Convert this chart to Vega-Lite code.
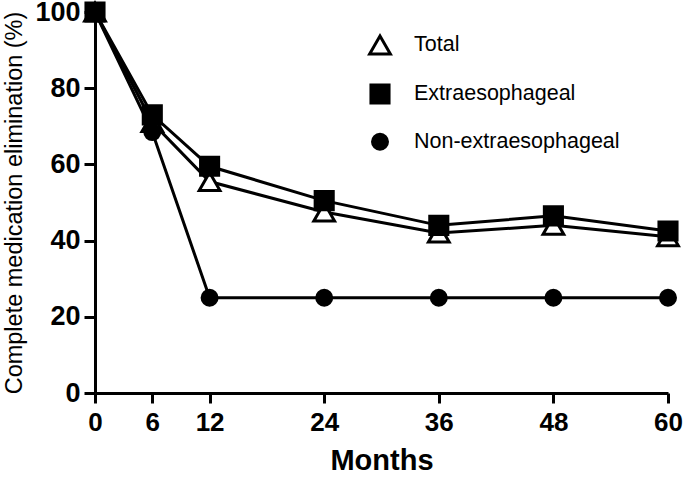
{
  "$schema": "https://vega.github.io/schema/vega-lite/v6.json",
  "width": 573,
  "height": 381,
  "autosize": {"type": "none"},
  "padding": {"left": 95, "top": 12, "right": 17, "bottom": 84},
  "background": "white",
  "config": {
    "view": {"stroke": null},
    "axis": {
      "domainColor": "black",
      "domainWidth": 3,
      "tickColor": "black",
      "tickWidth": 3,
      "tickSize": 10,
      "grid": false,
      "labelColor": "black",
      "labelFont": "Liberation Sans",
      "labelFontWeight": "bold",
      "labelFontSize": 26,
      "titleColor": "black"
    },
    "legend": {
      "labelFont": "Liberation Sans",
      "labelFontSize": 21.5,
      "labelColor": "black",
      "labelLimit": 400
    }
  },
  "data": {
    "values": [
      {"month": 0, "value": 100, "group": "Total"},
      {"month": 6, "value": 71, "group": "Total"},
      {"month": 12, "value": 55.5, "group": "Total"},
      {"month": 24, "value": 47.5, "group": "Total"},
      {"month": 36, "value": 42, "group": "Total"},
      {"month": 48, "value": 44, "group": "Total"},
      {"month": 60, "value": 41, "group": "Total"},
      {"month": 0, "value": 100, "group": "Extraesophageal"},
      {"month": 6, "value": 73, "group": "Extraesophageal"},
      {"month": 12, "value": 59.5, "group": "Extraesophageal"},
      {"month": 24, "value": 50.5, "group": "Extraesophageal"},
      {"month": 36, "value": 44, "group": "Extraesophageal"},
      {"month": 48, "value": 46.5, "group": "Extraesophageal"},
      {"month": 60, "value": 42.5, "group": "Extraesophageal"},
      {"month": 0, "value": 100, "group": "Non-extraesophageal"},
      {"month": 6, "value": 68.5, "group": "Non-extraesophageal"},
      {"month": 12, "value": 25, "group": "Non-extraesophageal"},
      {"month": 24, "value": 25, "group": "Non-extraesophageal"},
      {"month": 36, "value": 25, "group": "Non-extraesophageal"},
      {"month": 48, "value": 25, "group": "Non-extraesophageal"},
      {"month": 60, "value": 25, "group": "Non-extraesophageal"}
    ]
  },
  "encoding": {
    "x": {
      "field": "month",
      "type": "quantitative",
      "scale": {"domain": [0, 60], "nice": false, "zero": false},
      "axis": {
        "values": [0, 6, 12, 24, 36, 48, 60],
        "title": "Months",
        "titleFont": "Liberation Sans",
        "titleFontWeight": "bold",
        "titleFontSize": 29,
        "titlePadding": 11,
        "labelPadding": 6,
        "labelFlush": false
      }
    },
    "y": {
      "field": "value",
      "type": "quantitative",
      "scale": {"domain": [0, 100], "nice": false},
      "axis": {
        "values": [0, 20, 40, 60, 80, 100],
        "title": "Complete medication elimination (%)",
        "titleFont": "Liberation Sans",
        "titleFontWeight": "normal",
        "titleFontSize": 23.5,
        "titlePadding": 8,
        "tickSize": 11,
        "labelPadding": 4,
        "labelFontSize": 27,
        "labelFlush": false
      }
    }
  },
  "layer": [
    {
      "mark": {"type": "line", "color": "black", "strokeWidth": 3},
      "encoding": {"detail": {"field": "group"}}
    },
    {
      "mark": {"type": "point", "stroke": "black", "strokeWidth": 3, "opacity": 1},
      "encoding": {
        "shape": {
          "field": "group",
          "type": "nominal",
          "scale": {
            "domain": ["Total", "Extraesophageal", "Non-extraesophageal"],
            "range": ["triangle-up", "square", "circle"]
          },
          "legend": {
            "title": null,
            "orient": "none",
            "legendX": 273,
            "legendY": 21,
            "padding": 0,
            "symbolSize": 400,
            "symbolStrokeWidth": 3,
            "symbolStrokeColor": "black",
            "rowPadding": 18,
            "labelOffset": 22,
            "encode": {
              "symbols": {
                "stroke": {"value": "black"},
                "strokeWidth": {"value": 3},
                "opacity": {"value": 1}
              }
            }
          }
        },
        "fill": {
          "field": "group",
          "type": "nominal",
          "scale": {
            "domain": ["Total", "Extraesophageal", "Non-extraesophageal"],
            "range": ["white", "black", "black"]
          }
        },
        "size": {
          "field": "group",
          "type": "nominal",
          "scale": {
            "domain": ["Total", "Extraesophageal", "Non-extraesophageal"],
            "range": [430, 225, 225]
          }
        }
      }
    }
  ]
}
